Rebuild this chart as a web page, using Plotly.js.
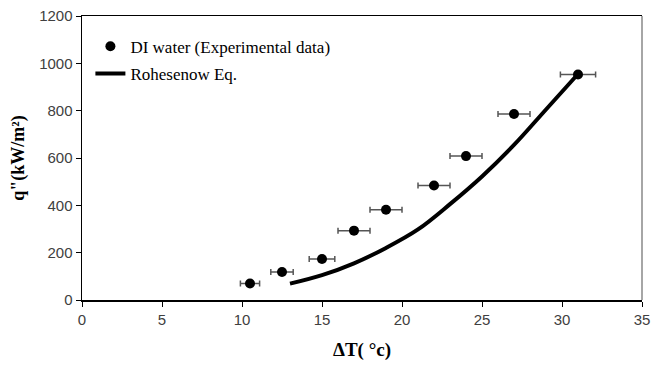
<!DOCTYPE html>
<html>
<head>
<meta charset="utf-8">
<script src="https://cdn.plot.ly/plotly-3.0.1.min.js"></script>
<style>html,body{margin:0;padding:0;background:#fff;}#chart{width:654px;height:367px;}</style>
</head>
<body>
<div id="chart"></div>
<script>
// Experimental data (DI water)
const expDT = [10.5, 12.5, 15, 17, 19, 22, 24, 27, 31];
const expQ = [70, 118, 173, 293, 381, 484, 608, 786, 953];
const expErr = [0.6, 0.7, 0.8, 1, 1, 1, 1, 1, 1.1];
// Rohesenow correlation curve
const rohDT = [13, 15, 17, 19, 21, 23, 25, 27, 29, 31];
const rohQ = [69, 105, 155, 220, 298, 405, 522, 655, 805, 955];
const xTicks = [0, 5, 10, 15, 20, 25, 30, 35];
const yTicks = [0, 200, 400, 600, 800, 1000, 1200];

const traces = [
  {
    x: expDT, y: expQ, type: 'scatter', mode: 'markers',
    name: 'DI water (Experimental data)', legendgroup: 'a',
    marker: {color: '#000', size: 10},
    error_x: {type: 'data', array: expErr, visible: true, color: '#555', thickness: 1.5, width: 3}
  },
  {
    x: rohDT, y: rohQ, type: 'scatter', mode: 'lines',
    name: 'Rohesenow Eq.', legendgroup: 'b',
    line: {color: '#000', width: 4, shape: 'spline'}
  }
];

const tickFont = {family: 'Liberation Sans, Arial, sans-serif', size: 15, color: '#404040'};
const titleFont = {family: 'Liberation Serif, Times New Roman, serif', size: 19, color: '#000', weight: 'bold'};

const layout = {
  width: 654, height: 367,
  margin: {l: 82, r: 12, t: 16, b: 67},
  paper_bgcolor: '#fff', plot_bgcolor: '#fff',
  showlegend: true,
  legend: {
    x: 0.015, y: 0.955, xanchor: 'left', yanchor: 'top',
    bgcolor: 'rgba(0,0,0,0)',
    font: {family: 'Liberation Serif, Times New Roman, serif', size: 17, color: '#000'},
    tracegroupgap: 2
  },
  xaxis: {
    range: [0, 35], tickvals: xTicks, ticktext: xTicks.map(String),
    showgrid: false, zeroline: false,
    showline: true, linecolor: '#000', linewidth: 1.5, mirror: true,
    ticks: 'outside', ticklen: 5, tickcolor: '#000',
    tickfont: tickFont,
    title: {text: 'ΔT( °c)', font: titleFont, standoff: 16}
  },
  yaxis: {
    range: [0, 1200], tickvals: yTicks, ticktext: yTicks.map(String),
    showgrid: false, zeroline: false,
    showline: true, linecolor: '#000', linewidth: 1.5,
    ticks: 'outside', ticklen: 5, tickcolor: '#000',
    tickfont: tickFont,
    title: {text: 'q"(kW/m²)', font: {family: 'Liberation Serif, Times New Roman, serif', size: 18, color: '#000', weight: 'bold'}, standoff: 10}
  },
  shapes: [
    {type: 'line', xref: 'paper', yref: 'paper', x0: 1, x1: 1, y0: 0, y1: 1,
     line: {color: '#888', width: 1.5}}
  ]
};

Plotly.newPlot('chart', traces, layout, {displayModeBar: false, staticPlot: true});
</script>
</body>
</html>
